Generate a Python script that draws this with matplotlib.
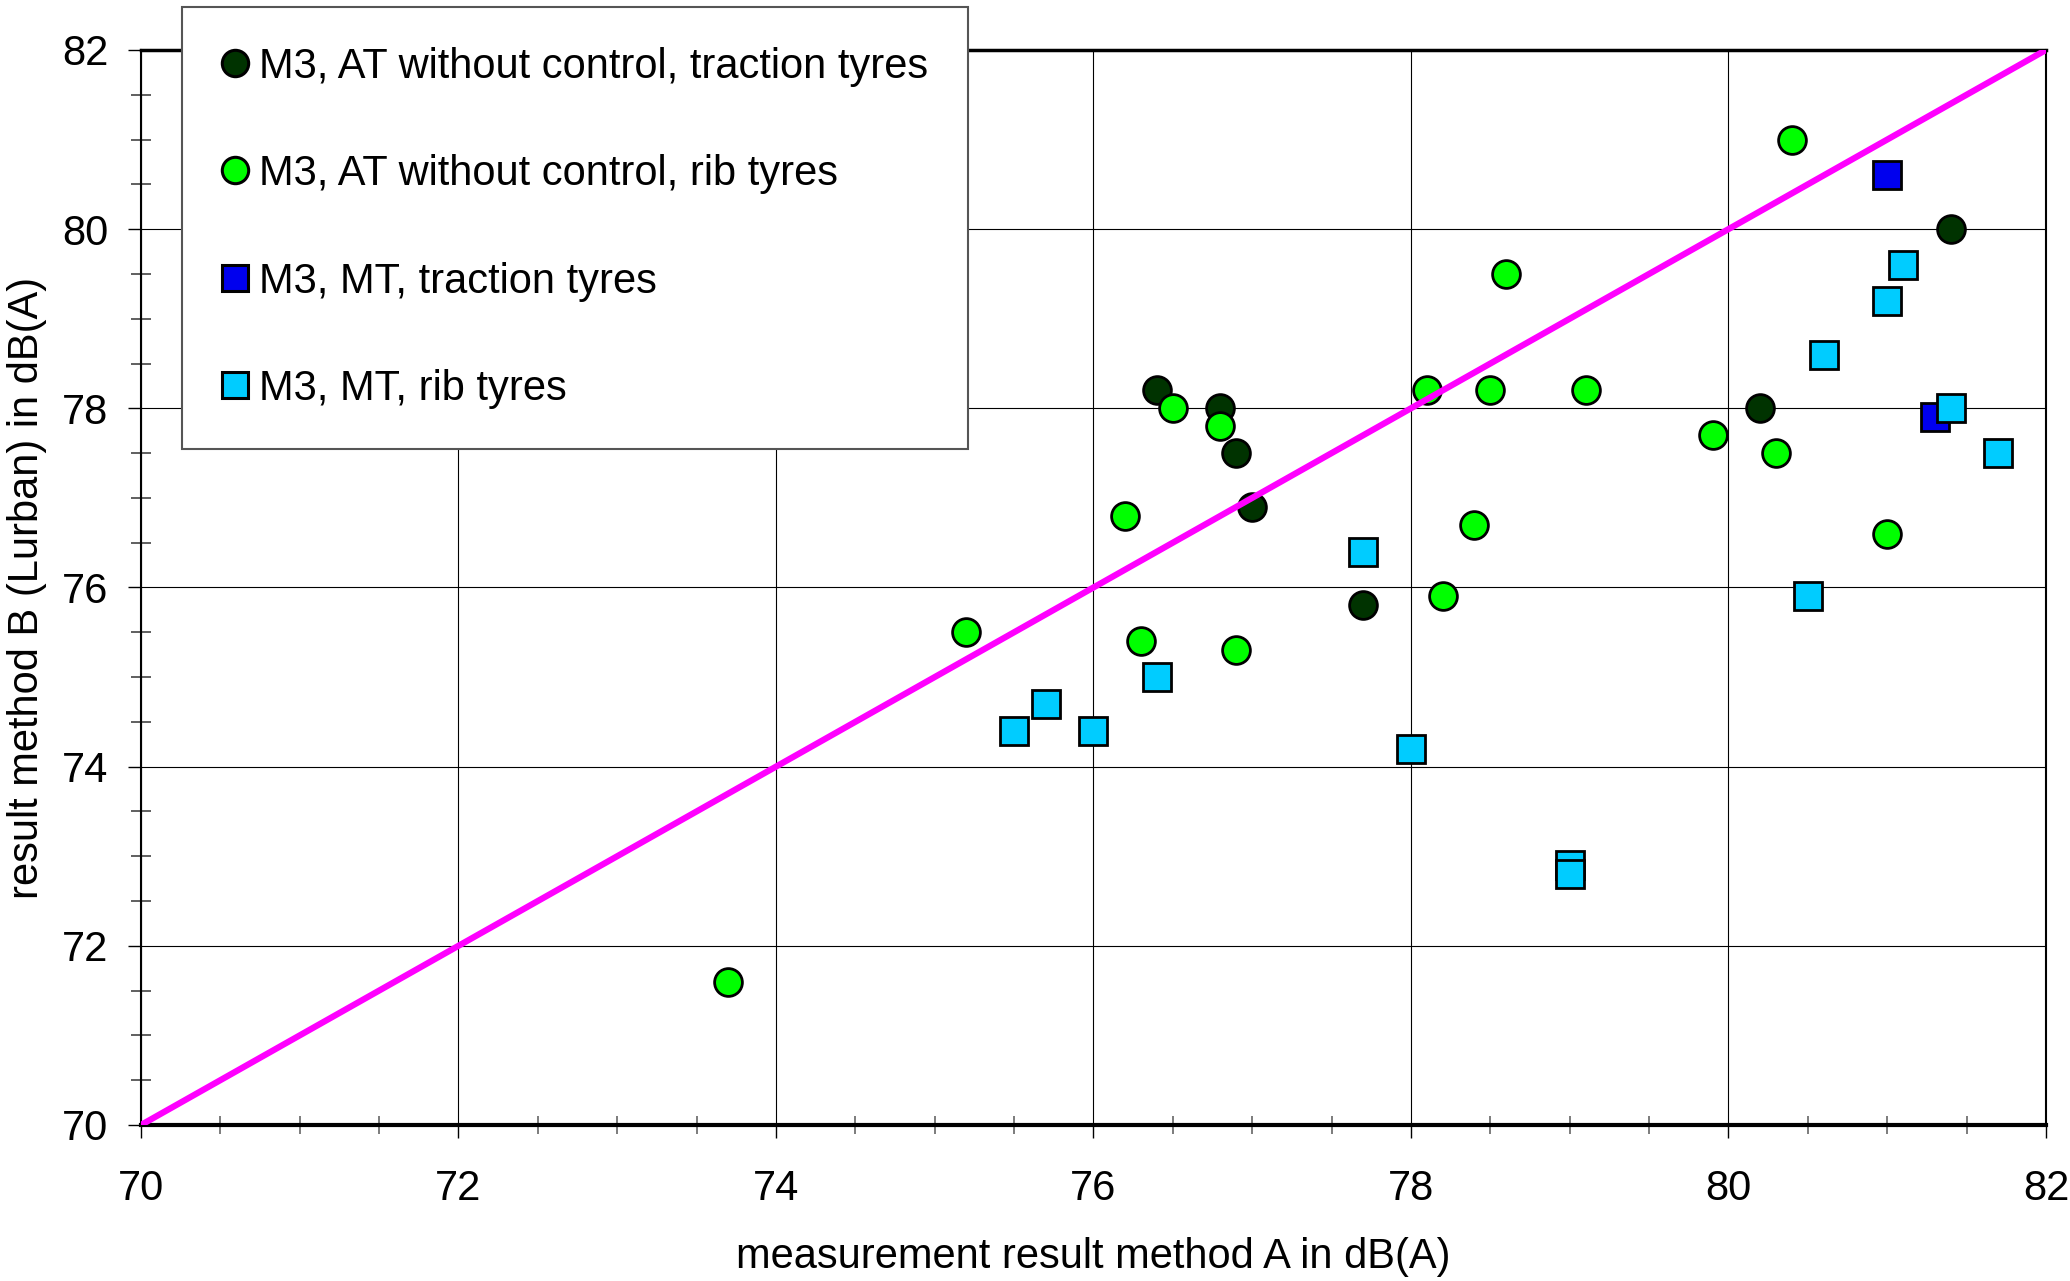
import matplotlib
matplotlib.use('Agg')
import matplotlib.pyplot as plt
from matplotlib.ticker import MultipleLocator

# Data
at_traction_x = [76.4, 76.8, 76.9, 77.0, 77.7, 80.2, 81.4]
at_traction_y = [78.2, 78.0, 77.5, 76.9, 75.8, 78.0, 80.0]

at_rib_x = [73.7, 75.2, 76.2, 76.3, 76.5, 76.8, 76.9, 78.1, 78.2, 78.4,
            78.5, 78.6, 79.1, 79.9, 80.3, 80.4, 81.0]
at_rib_y = [71.6, 75.5, 76.8, 75.4, 78.0, 77.8, 75.3, 78.2, 75.9, 76.7,
            78.2, 79.5, 78.2, 77.7, 77.5, 81.0, 76.6]

mt_traction_x = [81.0, 81.3]
mt_traction_y = [80.6, 77.9]

mt_rib_x = [75.5, 75.7, 76.0, 76.4, 77.7, 78.0, 79.0, 79.0, 80.5, 80.6,
            81.0, 81.1, 81.4, 81.7]
mt_rib_y = [74.4, 74.7, 74.4, 75.0, 76.4, 74.2, 72.9, 72.8, 75.9, 78.6,
            79.2, 79.6, 78.0, 77.5]

line_x = [70, 82]
line_y = [70, 82]

labels = ['M3, AT without control, traction tyres',
          'M3, AT without control, rib tyres',
          'M3, MT, traction tyres',
          'M3, MT, rib tyres']


def main():
    plt.rcParams['font.family'] = ['Liberation Sans', 'DejaVu Sans']
    fig = plt.figure(figsize=(20.7, 12.81), dpi=100)
    ax = fig.add_axes([0.0681, 0.1218, 0.9203, 0.8392])

    # Scatter series
    mk = dict(linestyle='none', markersize=20, markeredgecolor='black',
              markeredgewidth=2, zorder=3)
    h1, = ax.plot(at_traction_x, at_traction_y, 'o', color='#003300', **mk)
    h2, = ax.plot(at_rib_x, at_rib_y, 'o', color='#00FF00', **mk)
    h3, = ax.plot(mt_traction_x, mt_traction_y, 's', color='#0000EE', **mk)
    h4, = ax.plot(mt_rib_x, mt_rib_y, 's', color='#00CCFF', **mk)
    # Line of equality
    ax.plot(line_x, line_y, color='#FF00FF', linewidth=4.5, zorder=4,
            solid_capstyle='butt')

    ax.set_xlim(70, 82)
    ax.set_ylim(70, 82)
    ax.xaxis.set_major_locator(MultipleLocator(2))
    ax.xaxis.set_minor_locator(MultipleLocator(0.5))
    ax.yaxis.set_major_locator(MultipleLocator(2))
    ax.yaxis.set_minor_locator(MultipleLocator(0.5))
    ax.grid(True, which='major', color='black', linewidth=0.8, zorder=0)
    ax.set_axisbelow(True)

    ax.tick_params(axis='x', which='major', direction='out', length=9.5,
                   width=1, labelsize=30, pad=22)
    ax.tick_params(axis='x', which='minor', direction='inout', length=13,
                   width=1.2, color='#666666')
    ax.tick_params(axis='y', which='major', direction='out', length=9.5,
                   width=1, labelsize=30, pad=14)
    ax.tick_params(axis='y', which='minor', direction='inout', length=14,
                   width=1.2, color='#444444')

    ax.spines['left'].set_linewidth(1.5)
    ax.spines['right'].set_linewidth(1.5)
    ax.spines['top'].set_linewidth(2.5)
    ax.spines['bottom'].set_linewidth(3)

    ax.set_xlabel('measurement result method A in dB(A)', fontsize=30,
                  labelpad=20)
    ax.set_ylabel('result method B (Lurban) in dB(A)', fontsize=30,
                  labelpad=11)

    # Legend with same marker styles
    leg_handles = []
    for h in (h1, h2, h3, h4):
        leg_handles.append(plt.Line2D([], [], linestyle='none',
                                      marker=h.get_marker(),
                                      color=h.get_color(), markersize=19,
                                      markeredgecolor='black',
                                      markeredgewidth=2.2))
    leg = fig.legend(leg_handles, labels, loc='upper left',
                     bbox_to_anchor=(182 / 2070, 1 - 7 / 1281),
                     fontsize=30, frameon=True, fancybox=False,
                     framealpha=1, edgecolor='#555555', labelspacing=1.62,
                     borderpad=0.95, handlelength=0.65, handletextpad=0.25,
                     borderaxespad=0)
    leg.get_frame().set_linewidth(1.5)

    fig.savefig('out.png', dpi=100)


if __name__ == '__main__':
    main()
